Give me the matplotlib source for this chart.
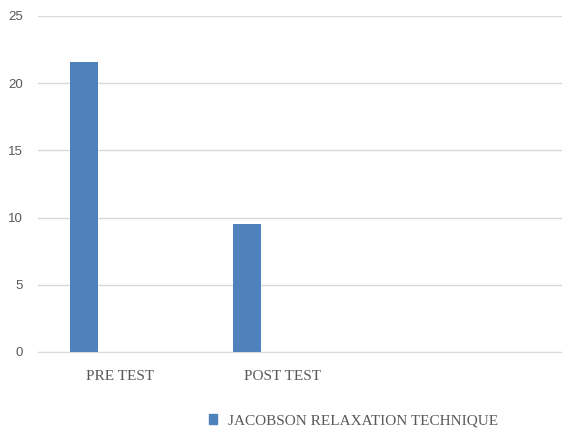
import matplotlib

matplotlib.use("Agg")
import matplotlib.pyplot as plt
from matplotlib.patches import Patch

categories = ["PRE TEST", "POST TEST"]
scores = [21.6, 9.5]
series_name = "JACOBSON RELAXATION TECHNIQUE"
y_ticks = [0, 5, 10, 15, 20, 25]

BAR = "#4f81bd"
GRID = "#d9d9d9"
TEXT = "#595959"

fig = plt.figure(figsize=(5.62, 4.33), dpi=100)
ax = fig.add_axes([38 / 562, 81 / 433, 1 - 38 / 562, (352 - 16) / 433])

x = list(range(len(categories)))
ax.bar([i - 0.218 for i in x], scores, width=0.172, color=BAR, zorder=3)

ax.set_xlim(-0.5, 2.71)
ax.set_ylim(0, 25)
ax.set_yticks(y_ticks)
ax.set_xticks(x)
ax.set_xticklabels(categories, family="Liberation Serif", fontsize=11, color=TEXT)
ax.tick_params(axis="x", length=0, pad=13)
ax.tick_params(axis="y", length=0, pad=11, labelsize=9.5, labelcolor=TEXT)
for lab in ax.get_yticklabels():
    lab.set_family("Liberation Sans")

ax.grid(axis="y", color=GRID, lw=1, zorder=0)
for side in ["top", "right", "left"]:
    ax.spines[side].set_visible(False)
ax.spines["bottom"].set_color(GRID)

fig.legend(handles=[Patch(color=BAR, label=series_name)],
           loc="center left", bbox_to_anchor=(195 / 562, 1 - 421 / 433),
           frameon=False, handlelength=0.55, handleheight=0.55, handletextpad=0.7,
           prop={"family": "Liberation Serif", "size": 11}, labelcolor=TEXT)

fig.savefig("out.png", dpi=100)
